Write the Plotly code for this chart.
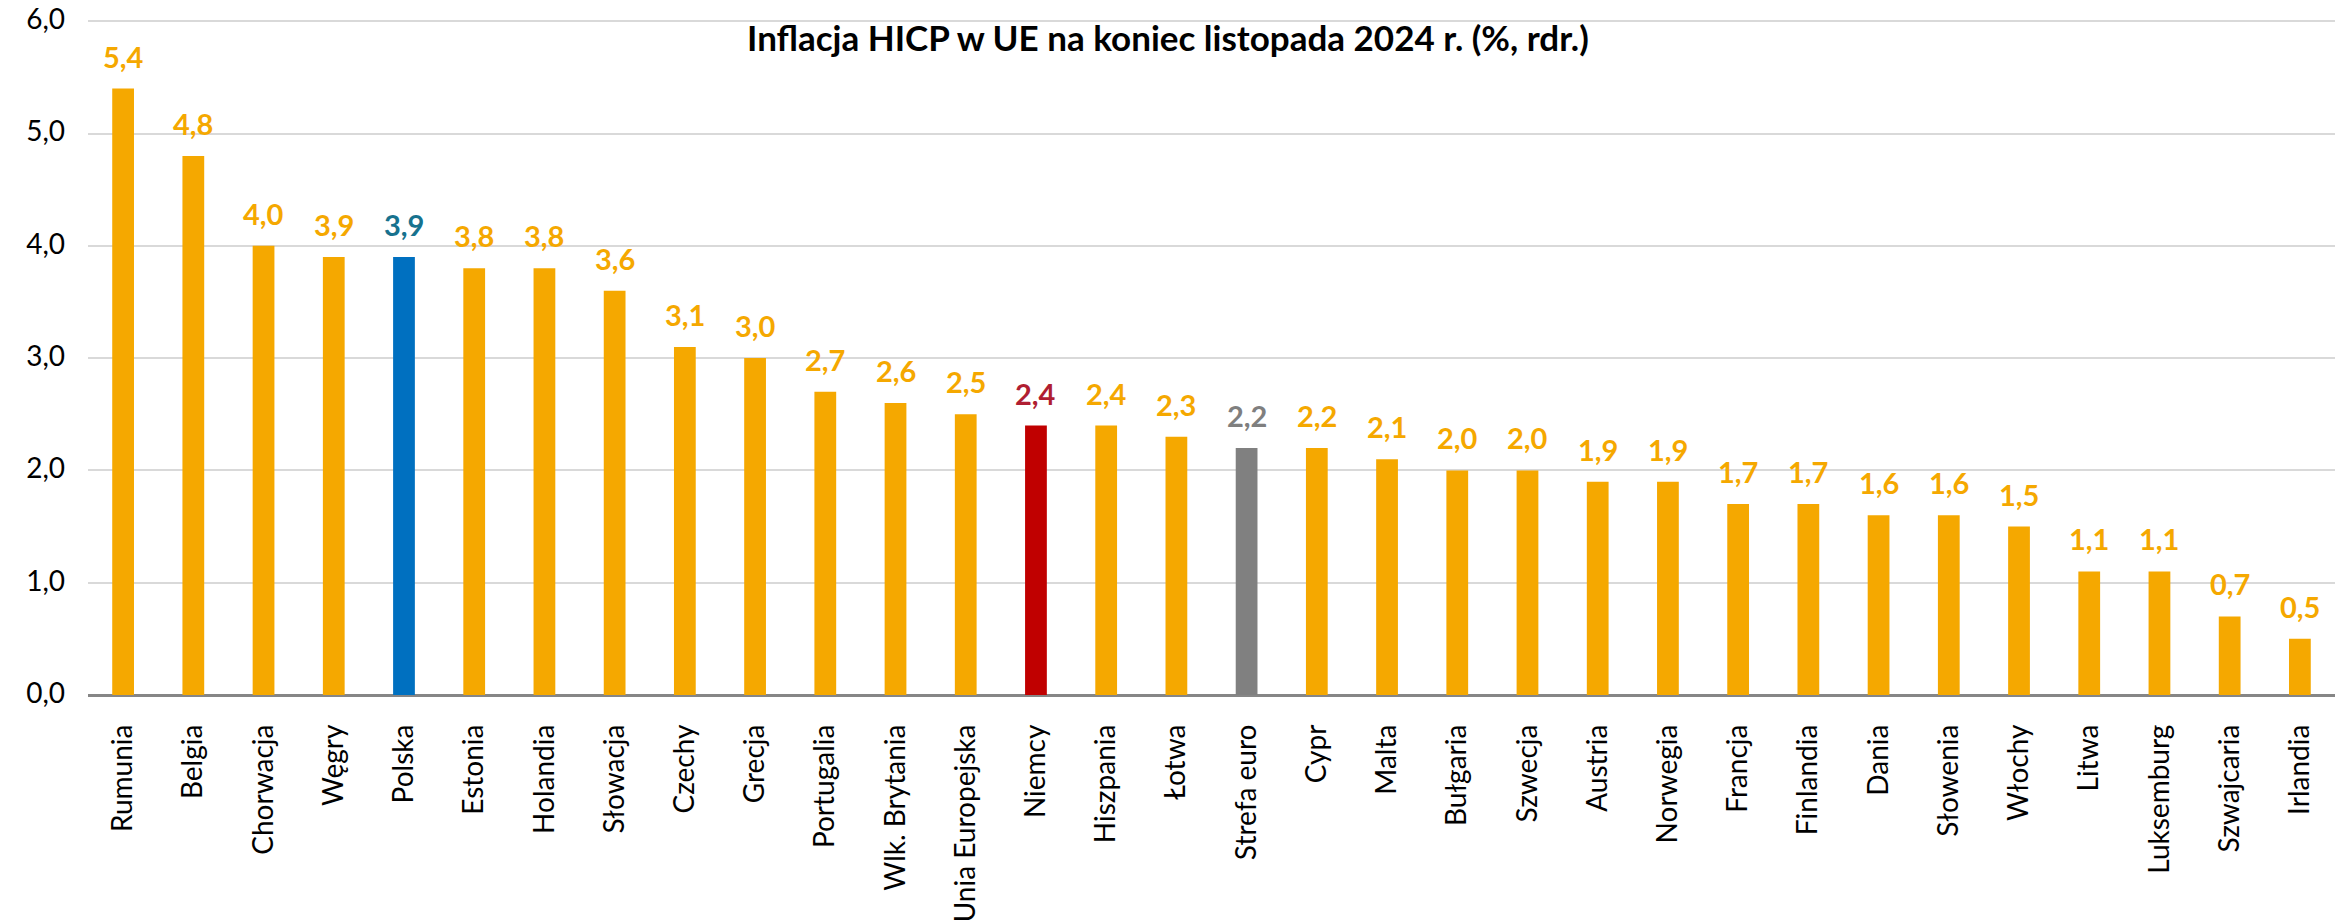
import plotly.graph_objects as go

categories = ["Rumunia", "Belgia", "Chorwacja", "Węgry", "Polska", "Estonia", "Holandia",
              "Słowacja", "Czechy", "Grecja", "Portugalia", "Wlk. Brytania", "Unia Europejska",
              "Niemcy", "Hiszpania", "Łotwa", "Strefa euro", "Cypr", "Malta", "Bułgaria",
              "Szwecja", "Austria", "Norwegia", "Francja", "Finlandia", "Dania", "Słowenia",
              "Włochy", "Litwa", "Luksemburg", "Szwajcaria", "Irlandia"]
values = [5.4, 4.8, 4.0, 3.9, 3.9, 3.8, 3.8, 3.6, 3.1, 3.0, 2.7, 2.6, 2.5, 2.4, 2.4, 2.3,
          2.2, 2.2, 2.1, 2.0, 2.0, 1.9, 1.9, 1.7, 1.7, 1.6, 1.6, 1.5, 1.1, 1.1, 0.7, 0.5]
y_ticks = [0, 1, 2, 3, 4, 5, 6]

ORANGE = "#F5A800"
bar_special = {"Polska": "#0070C0", "Niemcy": "#C00000", "Strefa euro": "#808080"}
label_special = {"Polska": "#17728E", "Niemcy": "#B01E32", "Strefa euro": "#7F7F7F"}

bar_colors = [bar_special.get(c, ORANGE) for c in categories]
label_colors = [label_special.get(c, ORANGE) for c in categories]

FONT = "Lato"
W, H = 2341, 916

fig = go.Figure()
fig.add_trace(go.Bar(x=categories, y=values, marker=dict(color=bar_colors, line=dict(width=0)),
                     hoverinfo="x+y"))

for c, v, col in zip(categories, values, label_colors):
    fig.add_annotation(x=c, y=v, text="<b>" + f"{v:.1f}".replace(".", ",") + "</b>",
                       showarrow=False, yanchor="bottom", yshift=13,
                       font=dict(family=FONT, size=29, color=col))

fig.update_layout(
    width=W, height=H,
    margin=dict(l=80, r=14, t=11, b=229),
    plot_bgcolor="white", paper_bgcolor="white",
    bargap=0.69,
    showlegend=False,
    title=dict(text="<b>Inflacja HICP w UE na koniec listopada 2024 r. (%, rdr.)</b>",
               x=0.4806, xref="paper", xanchor="center",
               y=1 - 31 / H, yref="container", yanchor="middle",
               font=dict(family=FONT, size=35, color="black")),
    xaxis=dict(tickangle=-90, tickfont=dict(family=FONT, size=28, color="black"),
               showgrid=False, ticks="", ticklabelstandoff=23, automargin=False),
    yaxis=dict(range=[0, 6.02], tickvals=y_ticks,
               ticktext=[f"{t:.1f}".replace(".", ",") for t in y_ticks],
               tickfont=dict(family=FONT, size=28, color="black"),
               showgrid=True, gridcolor="#D9D9D9", gridwidth=1.5,
               zeroline=True, zerolinecolor="#868686", zerolinewidth=2.5,
               ticks="", ticklabelstandoff=22, automargin=False,
               ticklabeloverflow="allow", ticklabelshift=-2),
)

fig.write_html("out.html")
